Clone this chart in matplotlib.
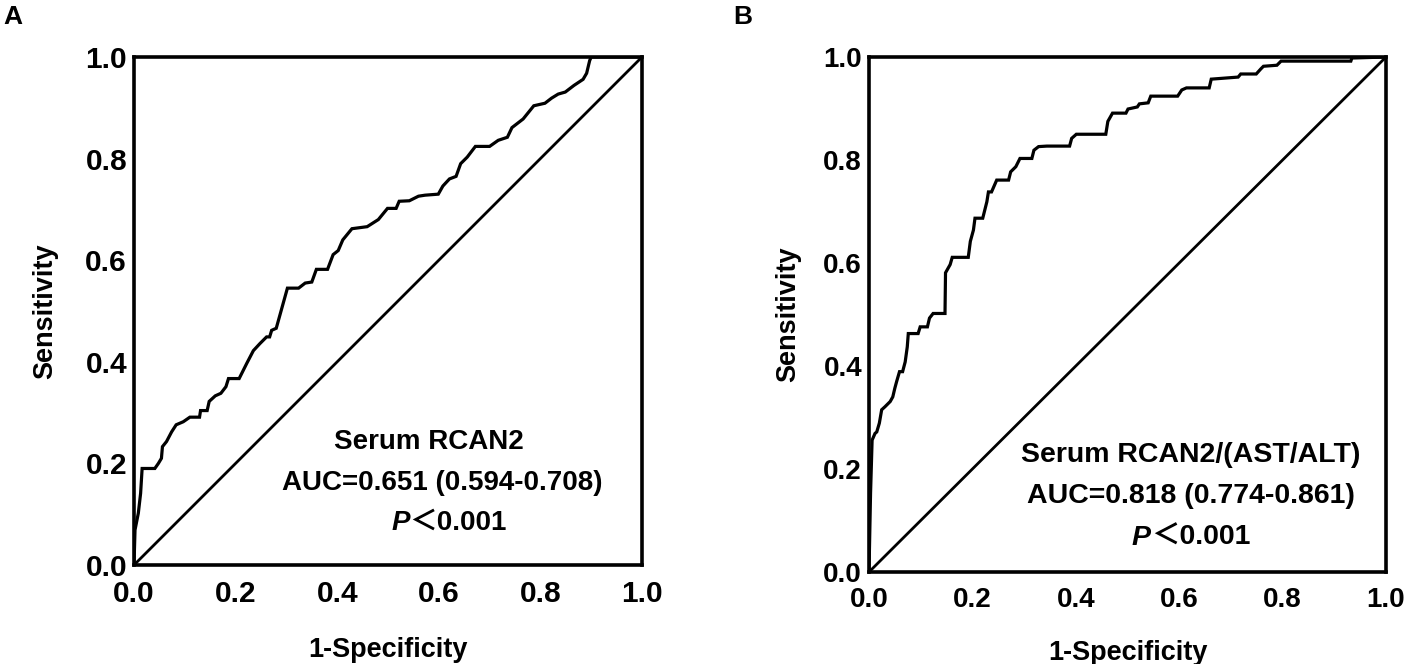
#!/usr/bin/env python3
"""Two ROC curves: serum RCAN2 alone (A) and RCAN2/(AST/ALT) (B)."""

import matplotlib
matplotlib.use("Agg")
import matplotlib.pyplot as plt
from matplotlib.offsetbox import TextArea, HPacker, AnnotationBbox

plt.rcParams["font.family"] = ["Liberation Sans", "Noto Sans CJK SC", "DejaVu Sans"]
plt.rcParams["font.weight"] = "bold"

# panel A: serum RCAN2
A_FPR = [0.0, 0.002, 0.0085, 0.013, 0.016, 0.041, 0.048, 0.054, 0.056, 0.064, 0.074,
         0.083, 0.097, 0.110, 0.129, 0.131, 0.144, 0.148, 0.160, 0.171, 0.181, 0.186,
         0.207, 0.222, 0.235, 0.248, 0.261, 0.267, 0.271, 0.280, 0.302, 0.324, 0.337,
         0.350, 0.359, 0.381, 0.392, 0.402, 0.411, 0.429, 0.459, 0.481, 0.499, 0.516,
         0.522, 0.542, 0.560, 0.573, 0.599, 0.608, 0.621, 0.634, 0.643, 0.656, 0.672,
         0.700, 0.717, 0.735, 0.744, 0.766, 0.787, 0.809, 0.822, 0.835, 0.849, 0.866,
         0.884, 0.891, 0.897, 0.900, 1.0]
A_TPR = [0.0, 0.069, 0.102, 0.141, 0.190, 0.190, 0.200, 0.210, 0.233, 0.243, 0.262,
         0.276, 0.282, 0.291, 0.291, 0.304, 0.304, 0.322, 0.333, 0.338, 0.351, 0.367,
         0.367, 0.397, 0.422, 0.436, 0.449, 0.449, 0.462, 0.466, 0.545, 0.545, 0.555,
         0.557, 0.582, 0.582, 0.611, 0.619, 0.640, 0.662, 0.666, 0.680, 0.702, 0.702,
         0.716, 0.717, 0.726, 0.728, 0.730, 0.746, 0.760, 0.765, 0.790, 0.803, 0.824,
         0.824, 0.836, 0.842, 0.861, 0.878, 0.904, 0.909, 0.919, 0.927, 0.931, 0.944,
         0.956, 0.968, 0.993, 1.0, 1.0]

# panel B: serum RCAN2/(AST/ALT)
B_FPR = [0.0, 0.003, 0.006, 0.0116, 0.015, 0.020, 0.0245, 0.031, 0.041, 0.046, 0.050,
         0.0535, 0.059, 0.065, 0.070, 0.074, 0.076, 0.095, 0.099, 0.113, 0.117, 0.124,
         0.147, 0.148, 0.157, 0.161, 0.192, 0.196, 0.202, 0.205, 0.220, 0.228, 0.231,
         0.237, 0.247, 0.270, 0.274, 0.284, 0.292, 0.315, 0.319, 0.328, 0.344, 0.388,
         0.392, 0.401, 0.458, 0.462, 0.471, 0.497, 0.501, 0.519, 0.523, 0.540, 0.545,
         0.597, 0.605, 0.614, 0.658, 0.662, 0.714, 0.719, 0.749, 0.758, 0.763, 0.789,
         0.797, 0.932, 0.934, 1.0]
B_TPR = [0.0, 0.153, 0.256, 0.269, 0.272, 0.289, 0.315, 0.321, 0.331, 0.340, 0.357,
         0.370, 0.389, 0.389, 0.408, 0.437, 0.463, 0.463, 0.476, 0.476, 0.493, 0.502,
         0.502, 0.581, 0.597, 0.611, 0.611, 0.642, 0.664, 0.687, 0.687, 0.719, 0.738,
         0.738, 0.761, 0.761, 0.777, 0.787, 0.803, 0.803, 0.819, 0.826, 0.827, 0.827,
         0.842, 0.850, 0.850, 0.875, 0.891, 0.891, 0.899, 0.903, 0.909, 0.911, 0.924,
         0.924, 0.936, 0.940, 0.940, 0.957, 0.961, 0.967, 0.967, 0.977, 0.982, 0.984,
         0.992, 0.992, 0.998, 1.0]

TICKS = [0.0, 0.2, 0.4, 0.6, 0.8, 1.0]
TICK_LABELS = ["0.0", "0.2", "0.4", "0.6", "0.8", "1.0"]

PANELS = [
    dict(letter="A", fpr=A_FPR, tpr=A_TPR, name="Serum RCAN2",
         auc="AUC=0.651 (0.594-0.708)", pval="\uff1c0.001"),
    dict(letter="B", fpr=B_FPR, tpr=B_TPR, name="Serum RCAN2/(AST/ALT)",
         auc="AUC=0.818 (0.774-0.861)", pval="\uff1c0.001"),
]

# layout per panel (pixels of a 1408x664 canvas), kept apart from the data
LAYOUT = {
    "A": dict(rect=[134, 57, 642, 565], tick=21.5, sizes=(20, 20, 20), letter_x=3,
              note_xy=[(0.581, 0.242), (0.606, 0.161), (0.620, 0.083)],
              ylab_x=-0.174, xlab_y=-0.142),
    "B": dict(rect=[869, 57, 1386, 572], tick=20.0, sizes=(20.5, 20.5, 20.5), letter_x=733,
              note_xy=[(0.623, 0.227), (0.623, 0.148), (0.623, 0.066)],
              ylab_x=-0.156, xlab_y=-0.132),
}

W, H = 1408, 664


def draw_panel(fig, p):
    lay = LAYOUT[p["letter"]]
    x0, y0, x1, y1 = lay["rect"]
    ax = fig.add_axes([x0 / W, 1 - y1 / H, (x1 - x0) / W, (y1 - y0) / H])

    ax.plot(p["fpr"], p["tpr"], color="black", lw=2.3, solid_joinstyle="miter")
    ax.plot([0, 1], [0, 1], color="black", lw=2.0)

    ax.set_xlim(0, 1)
    ax.set_ylim(0, 1)
    ax.set_xticks(TICKS)
    ax.set_xticklabels(TICK_LABELS)
    ax.set_yticks(TICKS)
    ax.set_yticklabels(TICK_LABELS)
    ax.tick_params(axis="both", length=0, labelsize=lay["tick"])
    ax.tick_params(axis="x", pad=11)
    ax.tick_params(axis="y", pad=5)
    for s in ax.spines.values():
        s.set_linewidth(2.6)

    ax.text(0.5, lay["xlab_y"], "1-Specificity", transform=ax.transAxes,
            ha="center", va="top", fontsize=19.5, fontweight="bold")
    ax.text(lay["ylab_x"], 0.5, "Sensitivity", transform=ax.transAxes,
            ha="center", va="center", rotation=90, fontsize=19.5, fontweight="bold")

    s_name, s_auc, s_p = lay["sizes"]
    (nx, ny), (ax_, ay), (px, py) = lay["note_xy"]
    ax.text(nx, ny, p["name"], transform=ax.transAxes, ha="center", va="center",
            fontsize=s_name, fontweight="bold")
    ax.text(ax_, ay, p["auc"], transform=ax.transAxes, ha="center", va="center",
            fontsize=s_auc, fontweight="bold")

    italic_p = TextArea("P", textprops=dict(fontsize=s_p, fontstyle="italic",
                                            fontweight="bold"))
    rest = TextArea(p["pval"], textprops=dict(fontsize=s_p, fontweight="bold"))
    box = HPacker(children=[italic_p, rest], align="baseline", pad=0, sep=0)
    ab = AnnotationBbox(box, (px, py), xycoords="axes fraction", frameon=False,
                        box_alignment=(0.5, 0.5), pad=0)
    ax.add_artist(ab)

    fig.text(lay["letter_x"] / W, 1 - 5 / H, p["letter"], ha="left", va="top",
             fontsize=19, fontweight="bold")
    return ax


def main():
    fig = plt.figure(figsize=(W / 100, H / 100), dpi=100)
    for p in PANELS:
        draw_panel(fig, p)
    fig.savefig("out.png", dpi=100, facecolor="white")
    plt.close(fig)


if __name__ == "__main__":
    main()
